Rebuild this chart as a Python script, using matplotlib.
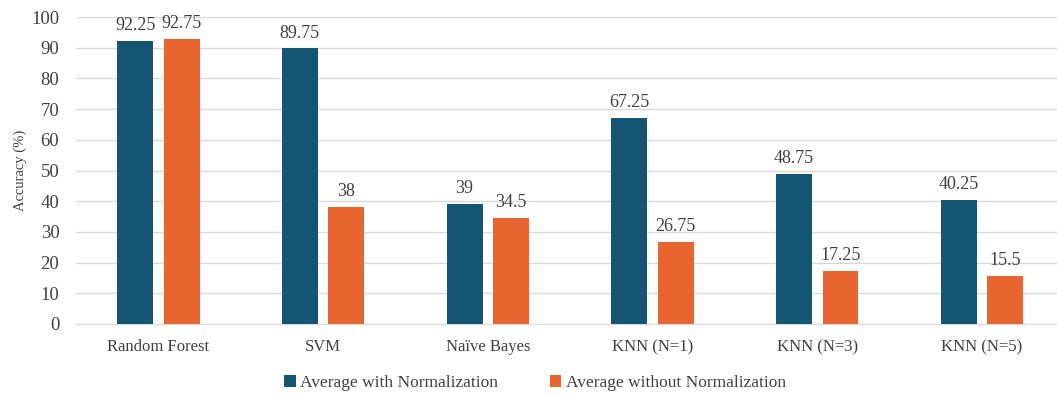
import numpy as np
import matplotlib.pyplot as plt

plt.rcParams["font.family"] = ["Liberation Serif", "DejaVu Serif"]

models = ["Random Forest", "SVM", "Naïve Bayes", "KNN (N=1)", "KNN (N=3)", "KNN (N=5)"]
with_norm = [92.25, 89.75, 39, 67.25, 48.75, 40.25]
without_norm = [92.75, 38, 34.5, 26.75, 17.25, 15.5]

blue = "#155574"
orange = "#e8652f"
text_col = "#404040"

fig = plt.figure(figsize=(10.57, 3.94), dpi=100)
ax = fig.add_axes([76 / 1057, 70 / 394, 981 / 1057, 307 / 394])

x = np.arange(len(models))
w = 0.218
off = 0.141

b1 = ax.bar(x - off, with_norm, w, color=blue, label="Average with Normalization", zorder=3)
b2 = ax.bar(x + off, without_norm, w, color=orange, label="Average without Normalization", zorder=3)

for bars, vals in [(b1, with_norm), (b2, without_norm)]:
    for rect, v in zip(bars, vals):
        ax.annotate(f"{v:g}", (rect.get_x() + rect.get_width() / 2, v),
                    xytext=(0, 5), textcoords="offset points",
                    ha="center", va="bottom", fontsize=13, color=text_col)

ax.set_xlim(-0.5, 5.455)
ax.set_ylim(0, 100)
ax.set_yticks(range(0, 101, 10))
ax.set_xticks(x)
ax.set_xticklabels(models)
ax.tick_params(axis="both", length=0, labelcolor=text_col)
ax.tick_params(axis="x", pad=11, labelsize=12)
ax.tick_params(axis="y", pad=12, labelsize=13.5)
ax.yaxis.grid(True, color="#d9d9d9", linewidth=1, zorder=0)
for s in ["top", "right", "left"]:
    ax.spines[s].set_visible(False)
ax.spines["bottom"].set_color("#d9d9d9")
ax.set_ylabel("Accuracy (%)", fontsize=10.5, color=text_col, labelpad=3)

ax.legend(loc="center", bbox_to_anchor=(0.468, -0.192), ncol=2, frameon=False,
          fontsize=12.5, labelcolor=text_col, handlelength=0.65, handleheight=0.65,
          handletextpad=0.25, columnspacing=3.0)

fig.savefig("out.png", dpi=100)
